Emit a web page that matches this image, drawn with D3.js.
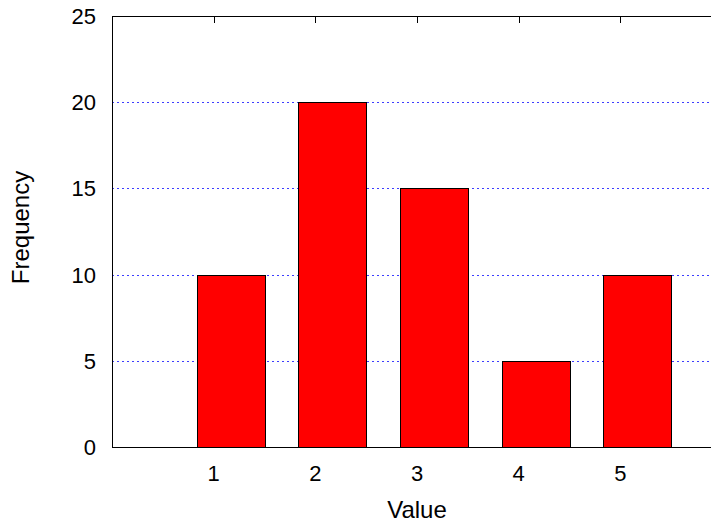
<!DOCTYPE html>
<html>
<head>
<meta charset="utf-8">
<script src="https://cdn.jsdelivr.net/npm/d3@7"></script>
<style>
  html, body { margin: 0; padding: 0; background: #fff; overflow: hidden; }
  text { font-family: "Liberation Sans", Arial, Helvetica, sans-serif; fill: #000; }
</style>
</head>
<body>
<script>
const categories = [1, 2, 3, 4, 5];
const frequencies = [10, 20, 15, 5, 10];
const yTicks = [0, 5, 10, 15, 20, 25];
const gridTicks = [5, 10, 15, 20];
const xLabel = "Value";
const yLabel = "Frequency";

const W = 711, H = 524;
const margin = { left: 112, top: 16 };
const plotW = 610, plotH = 431;

const svg = d3.select("body").append("svg")
  .attr("width", W).attr("height", H);

const x = d3.scaleLinear().domain([0, 6]).range([margin.left, margin.left + plotW]);
const y = d3.scaleLinear().domain([0, 25]).range([margin.top + plotH, margin.top]);

// grid
svg.append("g").selectAll("line").data(gridTicks).join("line")
  .attr("x1", x(0)).attr("x2", x(6))
  .attr("y1", d => Math.round(y(d)) + 0.5).attr("y2", d => Math.round(y(d)) + 0.5)
  .attr("stroke", "#3c3cff").attr("stroke-width", 1)
  .attr("stroke-dasharray", "2,3");

// top mirror ticks
svg.append("g").selectAll("line").data(categories).join("line")
  .attr("x1", d => Math.round(x(d)) + 0.5).attr("x2", d => Math.round(x(d)) + 0.5)
  .attr("y1", margin.top).attr("y2", margin.top + 7)
  .attr("stroke", "#000").attr("stroke-width", 1);

// bars (each bar spans from category - 1/6 to category + 1/2)
svg.append("g").selectAll("rect").data(categories).join("rect")
  .attr("x", d => Math.round(x(d - 1 / 6)) + 0.5)
  .attr("y", (d, i) => Math.round(y(frequencies[i])) + 0.5)
  .attr("width", d => Math.round(x(d + 0.5)) - Math.round(x(d - 1 / 6)))
  .attr("height", (d, i) => Math.round(y(0)) - Math.round(y(frequencies[i])))
  .attr("fill", "#ff0000").attr("stroke", "#000").attr("stroke-width", 1);

// frame
svg.append("rect")
  .attr("x", margin.left + 0.5).attr("y", margin.top + 0.5)
  .attr("width", plotW).attr("height", plotH)
  .attr("fill", "none").attr("stroke", "#000").attr("stroke-width", 1);

// x tick labels
svg.append("g").selectAll("text").data(categories).join("text")
  .attr("x", d => x(d)).attr("y", 481)
  .attr("text-anchor", "middle").attr("font-size", 22)
  .text(d => d);

// y tick labels
svg.append("g").selectAll("text").data(yTicks).join("text")
  .attr("x", 96).attr("y", d => y(d))
  .attr("dy", "0.36em")
  .attr("text-anchor", "end").attr("font-size", 22)
  .text(d => d);

// axis titles
svg.append("text")
  .attr("x", x(3)).attr("y", 518)
  .attr("text-anchor", "middle").attr("font-size", 24)
  .text(xLabel);

svg.append("text")
  .attr("transform", `translate(29,${(margin.top + margin.top + plotH) / 2 - 4}) rotate(-90)`)
  .attr("text-anchor", "middle").attr("font-size", 24)
  .text(yLabel);
</script>
</body>
</html>
